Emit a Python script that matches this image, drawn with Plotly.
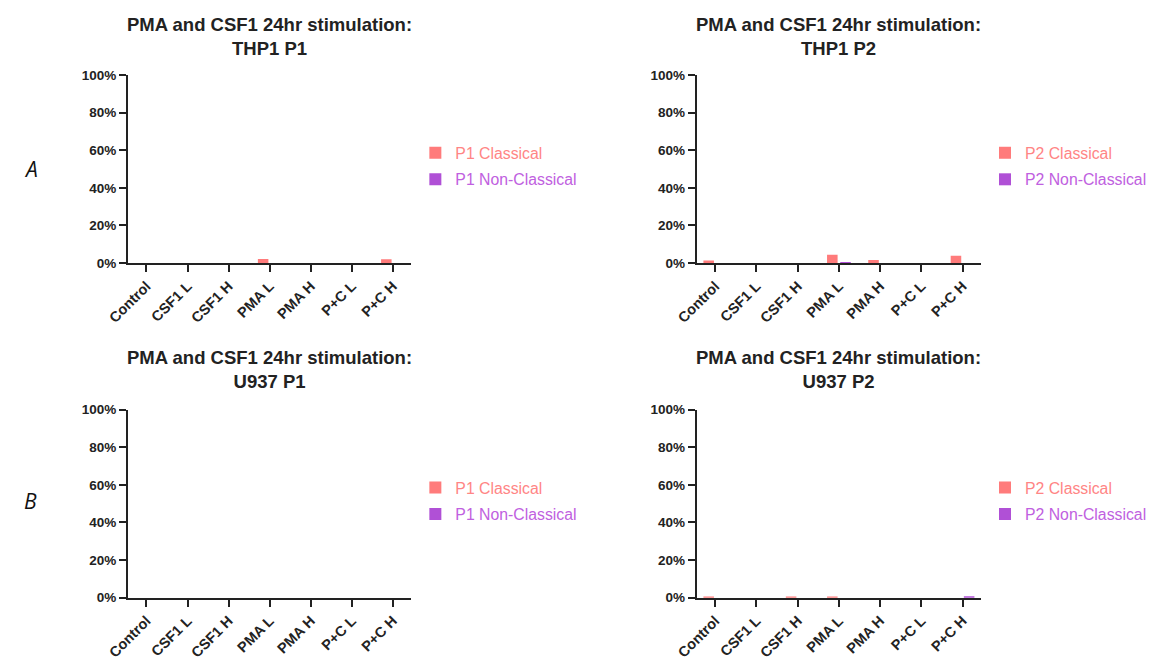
import plotly.graph_objects as go

categories = ["Control", "CSF1 L", "CSF1 H", "PMA L", "PMA H", "P+C L", "P+C H"]

thp1_p1_classical = [0, 0, 0, 2.1, 0, 0, 2.0]
thp1_p1_nonclassical = [0, 0, 0, 0, 0, 0, 0]
thp1_p2_classical = [1.3, 0, 0, 4.4, 1.6, 0, 3.9]
thp1_p2_nonclassical = [0, 0, 0, 0.3, 0, 0, 0]
u937_p1_classical = [0, 0, 0, 0, 0, 0, 0]
u937_p1_nonclassical = [0, 0, 0, 0, 0, 0, 0]
u937_p2_classical = [0.3, 0, 0.5, 0.5, 0, 0, 0]
u937_p2_nonclassical = [0, 0, 0, 0, 0, 0, 0.8]

panel_titles = [
    "PMA and CSF1 24hr stimulation:<br>THP1 P1",
    "PMA and CSF1 24hr stimulation:<br>THP1 P2",
    "PMA and CSF1 24hr stimulation:<br>U937 P1",
    "PMA and CSF1 24hr stimulation:<br>U937 P2",
]
series_names = [
    ("P1 Classical", "P1 Non-Classical"),
    ("P2 Classical", "P2 Non-Classical"),
    ("P1 Classical", "P1 Non-Classical"),
    ("P2 Classical", "P2 Non-Classical"),
]
panel_data = [
    (thp1_p1_classical, thp1_p1_nonclassical),
    (thp1_p2_classical, thp1_p2_nonclassical),
    (u937_p1_classical, u937_p1_nonclassical),
    (u937_p2_classical, u937_p2_nonclassical),
]
y_ticks = [0, 20, 40, 60, 80, 100]
y_tick_labels = ["0%", "20%", "40%", "60%", "80%", "100%"]

W, H = 1152, 661
RED = "#FF7B7B"
PURPLE = "#B050D6"
RED_TXT = "#FF8585"
PURPLE_TXT = "#C060E0"
AXC = "#222222"
FONT = "Liberation Sans, Arial, sans-serif"

# observed mapping from figure pixels to photographed pixels
IX0, SX, IY0, SY = 20.0, 0.983, 7.0, 0.978


def fx(x):
    return ((x - IX0) / SX) / W


def fy(y):
    return 1 - ((y - IY0) / SY) / H


# target positions (corrected from observation): (x0, x1, ytop, ybottom)
panels_px = [
    (127, 413, 77, 271),
    (701, 988, 77, 271),
    (127, 413, 422, 616),
    (701, 988, 422, 616),
]
legend_pos_px = [(417, 140), (992, 140), (417, 485), (992, 485)]
title_pos_px = [(270, 37), (844, 37), (270, 381), (844, 381)]

fig = go.Figure()
layout = {}
for i, ((x0, x1, yt, yb), (cls, noncls), (n1, n2)) in enumerate(zip(panels_px, panel_data, series_names)):
    k = "" if i == 0 else str(i + 1)
    lg = "legend" if i == 0 else f"legend{i + 1}"
    fig.add_trace(go.Bar(
        x=categories, y=cls, name=f"<span style='color:{RED_TXT}'>{n1}</span>",
        marker=dict(color=RED, line=dict(width=0)),
        xaxis=f"x{k}", yaxis=f"y{k}", legend=lg, legendgroup=f"a{i}",
    ))
    fig.add_trace(go.Bar(
        x=categories, y=noncls, name=f"<span style='color:{PURPLE_TXT}'>{n2}</span>",
        marker=dict(color=PURPLE, line=dict(width=0)),
        xaxis=f"x{k}", yaxis=f"y{k}", legend=lg, legendgroup=f"b{i}",
    ))
    layout[f"xaxis{k}"] = dict(
        domain=[fx(x0), fx(x1)], anchor=f"y{k}",
        range=[-0.45, 6.45], showline=True, linecolor=AXC, linewidth=2,
        ticks="outside", ticklen=7, tickwidth=2, tickcolor=AXC,
        tickangle=-45, tickfont=dict(family=FONT, size=14.5, color="#222", weight="bold"),
        showgrid=False, zeroline=False, fixedrange=True,
    )
    layout[f"yaxis{k}"] = dict(
        domain=[fy(yb), fy(yt)], anchor=f"x{k}",
        range=[0, 100], showline=True, linecolor=AXC, linewidth=2,
        ticks="outside", ticklen=7, tickwidth=2, tickcolor=AXC,
        tickmode="array", tickvals=y_ticks, ticktext=y_tick_labels,
        tickfont=dict(family=FONT, size=13.5, color="#222", weight="bold"),
        showgrid=False, zeroline=False, fixedrange=True,
    )
    lx, ly = legend_pos_px[i]
    layout[lg] = dict(
        x=fx(lx), y=fy(ly), xanchor="left", yanchor="top",
        font=dict(family=FONT, size=15.8), bgcolor="rgba(0,0,0,0)",
        traceorder="grouped", tracegroupgap=3, itemwidth=30,
    )

annotations = []
for (tx, ty), t in zip(title_pos_px, panel_titles):
    annotations.append(dict(
        x=fx(tx), y=fy(ty), xref="paper", yref="paper", text=f"<b>{t}</b>",
        showarrow=False, xanchor="center", yanchor="middle",
        font=dict(family=FONT, size=18.5, color="#222"),
    ))
for lab, ly in [("A", 174), ("B", 516)]:
    annotations.append(dict(
        x=0, y=fy(ly), xref="paper", yref="paper", text=f"<i>{lab}</i>",
        showarrow=False, xanchor="left", yanchor="middle",
        font=dict(family="Open Sans, sans-serif", size=21, color="#111"),
    ))

fig.update_layout(
    width=W, height=H, margin=dict(l=0, r=0, t=0, b=0),
    paper_bgcolor="white", plot_bgcolor="white",
    barmode="group", bargap=0.36, bargroupgap=0.2,
    annotations=annotations, showlegend=True,
    **layout,
)

fig.write_html("out.html")
